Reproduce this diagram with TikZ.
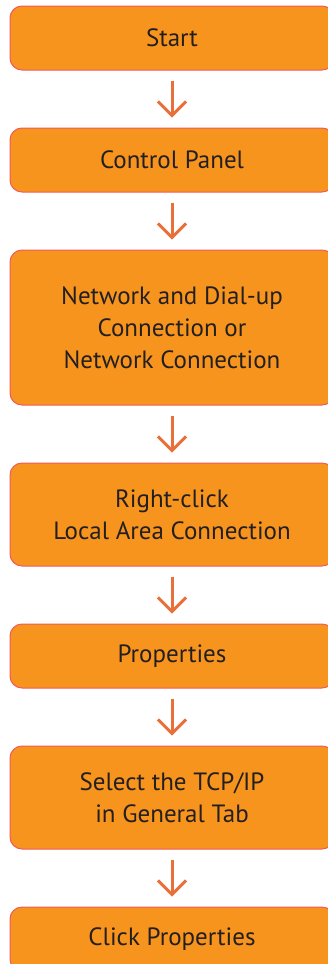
\documentclass[tikz,border=0pt]{standalone}
\usepackage{fontspec}
\setmainfont{PT Sans}
\usetikzlibrary{arrows.meta,positioning}
\definecolor{boxfill}{HTML}{F7941D}
\definecolor{boxline}{HTML}{EF5B5B}
\definecolor{arrowcol}{HTML}{E9703A}
\definecolor{txtcol}{HTML}{231F20}

\begin{document}
\begin{tikzpicture}[x=1pt, y=1pt,
        node distance=57pt,
        stepbox/.style={rectangle, draw=boxline, fill=boxfill, line width=1pt,
                    rounded corners=12pt, inner sep=0pt,
                    minimum width=324pt, minimum height=64pt,
                    align=center, text=txtcol,
                    font=\fontsize{25}{32}\selectfont},
        flow/.style={draw=arrowcol, line width=3pt,
                    -{Straight Barb[length=14pt, width=28pt]},
                    shorten <=10pt, shorten >=10pt}
      ]
      \useasboundingbox (0,0) rectangle (327,-964);
      \node[stepbox] (start) at (172,-38) {Start};
      \node[stepbox, below=of start] (panel) {Control Panel};
      \node[stepbox, below=of panel, minimum height=155pt] (netconn)
        {Network and Dial-up\\Connection or\\Network Connection};
      \node[stepbox, below=of netconn, minimum height=103pt] (lan)
        {Right-click\\Local Area Connection};
      \node[stepbox, below=of lan] (props) {Properties};
      \node[stepbox, below=of props, minimum height=103pt] (tcpip)
        {Select the TCP/IP\\in General Tab};
      \node[stepbox, below=of tcpip] (click) {Click Properties};

      \draw[flow] (start) -- (panel);
      \draw[flow] (panel) -- (netconn);
      \draw[flow] (netconn) -- (lan);
      \draw[flow] (lan) -- (props);
      \draw[flow] (props) -- (tcpip);
      \draw[flow] (tcpip) -- (click);
    \end{tikzpicture}
\end{document}
